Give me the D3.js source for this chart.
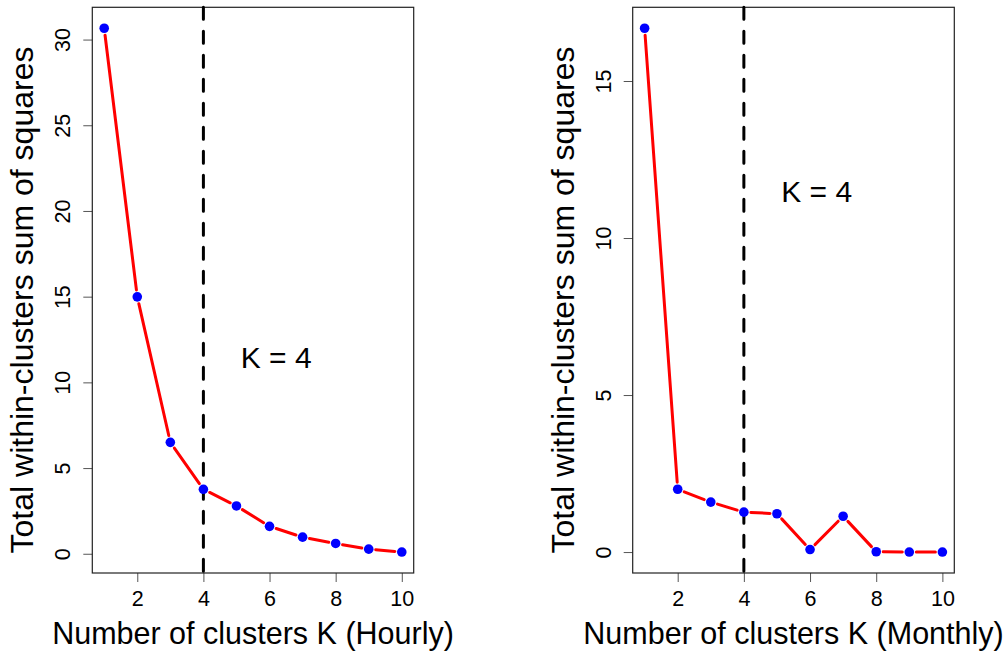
<!DOCTYPE html>
<html>
<head>
<meta charset="utf-8">
<script src="https://cdn.jsdelivr.net/npm/d3@7"></script>
<style>
  html, body { margin: 0; padding: 0; background: #fff; }
  svg { display: block; font-family: "Liberation Sans", Arial, sans-serif; }
</style>
</head>
<body>
<svg id="chart" width="1008" height="653"></svg>
<script>
// ---- data ----
const clustersK = [1, 2, 3, 4, 5, 6, 7, 8, 9, 10];
const hourlyWSS = [30.66, 14.99, 6.50, 3.76, 2.79, 1.60, 0.97, 0.60, 0.27, 0.10];
const monthlyWSS = [16.68, 2.00, 1.59, 1.27, 1.22, 0.08, 1.14, 0.01, 0.00, 0.00];
const xTickValues = [2, 4, 6, 8, 10];
const hourlyYTicks = [0, 5, 10, 15, 20, 25, 30];
const monthlyYTicks = [0, 5, 10, 15];
const chosenK = 4;
const annotationText = "K = 4";
const annotationPos = [6.2, 11.5];
const yTitle = "Total within-clusters sum of squares";
const xTitles = ["Number of clusters K (Hourly)", "Number of clusters K (Monthly)"];

const svg = d3.select("#chart");

function padExtent(vals) {
  const [lo, hi] = d3.extent(vals);
  const p = (hi - lo) * 0.04;
  return [lo - p, hi + p];
}

function panel(cfg) {
  const { left, right, top, bottom, values, yTicks, xTitle } = cfg;
  const g = svg.append("g");
  const x = d3.scaleLinear().domain(padExtent(clustersK)).range([left, right]);
  const y = d3.scaleLinear().domain(padExtent(values)).range([bottom, top]);

  // x axis
  const xa = g.append("g").attr("transform", `translate(0,${bottom})`)
    .call(d3.axisBottom(x).tickValues(xTickValues).tickSize(9).tickPadding(8).tickFormat(d3.format("d")));
  xa.select(".domain").remove();
  xa.selectAll("line").attr("stroke", "#555").attr("stroke-width", 1);
  xa.selectAll("text").attr("font-size", 21.5).attr("fill", "#000")
    .attr("font-family", "Liberation Sans, Arial, sans-serif")
    .attr("dy", null).attr("y", 33);

  // y axis
  const ya = g.append("g").attr("transform", `translate(${left},0)`)
    .call(d3.axisLeft(y).tickValues(yTicks).tickSize(9).tickFormat(d3.format("d")));
  ya.select(".domain").remove();
  ya.selectAll("line").attr("stroke", "#555").attr("stroke-width", 1);
  ya.selectAll("text").attr("font-size", 21.5).attr("fill", "#000")
    .attr("font-family", "Liberation Sans, Arial, sans-serif")
    .attr("transform", "rotate(-90)")
    .attr("x", 0).attr("y", -22).attr("dy", null)
    .attr("text-anchor", "middle");

  // box
  g.append("rect").attr("x", left).attr("y", top)
    .attr("width", right - left).attr("height", bottom - top)
    .attr("fill", "none").attr("stroke", "#222").attr("stroke-width", 1.2);

  // vertical dashed line at chosen K
  g.append("line")
    .attr("x1", x(chosenK)).attr("x2", x(chosenK))
    .attr("y1", top).attr("y2", bottom)
    .attr("stroke", "#000").attr("stroke-width", 3)
    .attr("stroke-dasharray", "12,12").attr("stroke-linecap", "round");

  // line segments with gaps (type = "b")
  const pts = clustersK.map((k, i) => [x(k), y(values[i])]);
  const gap = 7;
  const segs = d3.pairs(pts).map(([a, b]) => {
    const dx = b[0] - a[0], dy = b[1] - a[1];
    const L = Math.hypot(dx, dy);
    const ux = dx / L, uy = dy / L;
    return [a[0] + ux * gap, a[1] + uy * gap, b[0] - ux * gap, b[1] - uy * gap, L];
  }).filter(s => s[4] > 2 * gap);
  g.append("g").selectAll("line").data(segs).join("line")
    .attr("x1", d => d[0]).attr("y1", d => d[1])
    .attr("x2", d => d[2]).attr("y2", d => d[3])
    .attr("stroke", "#FF0000").attr("stroke-width", 3)
    .attr("stroke-linecap", "round");

  // points
  g.append("g").selectAll("circle").data(clustersK).join("circle")
    .attr("cx", d => x(d)).attr("cy", (d, i) => y(values[i]))
    .attr("r", 4.8).attr("fill", "#0000FF");

  // annotation
  g.append("text")
    .attr("x", x(annotationPos[0])).attr("y", y(annotationPos[1]) + 11)
    .attr("text-anchor", "middle").attr("font-size", 30).attr("fill", "#000")
    .text(annotationText);

  // axis titles
  g.append("text")
    .attr("x", (left + right) / 2).attr("y", bottom + 71)
    .attr("text-anchor", "middle").attr("font-size", 30.5).attr("fill", "#000")
    .text(xTitle);
  g.append("text")
    .attr("transform", `translate(${left - 59},300) rotate(-90)`)
    .attr("text-anchor", "middle").attr("font-size", 32).attr("fill", "#000")
    .text(yTitle);
}

panel({ left: 92.3, right: 413.7, top: 7.3, bottom: 573, values: hourlyWSS, yTicks: hourlyYTicks, xTitle: xTitles[0] });
panel({ left: 632.7, right: 954.3, top: 7.3, bottom: 573, values: monthlyWSS, yTicks: monthlyYTicks, xTitle: xTitles[1] });
</script>
</body>
</html>
